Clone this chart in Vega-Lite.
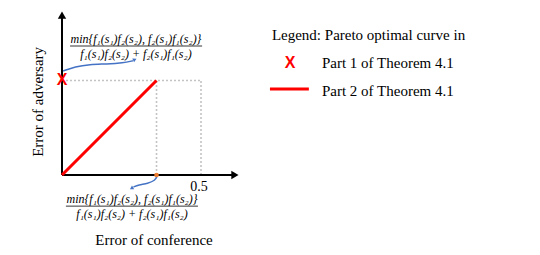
{
  "$schema": "https://vega.github.io/schema/vega-lite/v6.json",
  "width": 540,
  "height": 255,
  "autosize": {"type": "fit", "contains": "padding"},
  "padding": 0,
  "background": "white",
  "config": {"view": {"stroke": null}},
  "datasets": {
    "dotted": [
      {"x": 0, "y": 0.34, "x2": 0.5, "y2": 0.34},
      {"x": 0.34, "y": 0, "x2": 0.34, "y2": 0.34},
      {"x": 0.5, "y": 0, "x2": 0.5, "y2": 0.34}
    ],
    "axes": [
      {"x": 0, "y": 0, "x2": 0.622, "y2": 0},
      {"x": 0, "y": 0, "x2": 0, "y2": 0.575}
    ],
    "pareto": [
      {"x": 0, "y": 0, "x2": 0.34, "y2": 0.34}
    ],
    "arrowX": [{"x": 0.622, "y": 0}],
    "arrowY": [{"x": 0, "y": 0.575}],
    "blueTop": [
      {"o": 1, "x": 0.004, "y": 0.374},
      {"o": 2, "x": 0.047, "y": 0.390},
      {"o": 3, "x": 0.100, "y": 0.398},
      {"o": 4, "x": 0.160, "y": 0.399},
      {"o": 5, "x": 0.220, "y": 0.403},
      {"o": 6, "x": 0.255, "y": 0.411}
    ],
    "blueBottom": [
      {"o": 1, "x": 0.342, "y": -0.004},
      {"o": 2, "x": 0.335, "y": -0.020},
      {"o": 3, "x": 0.309, "y": -0.030},
      {"o": 4, "x": 0.275, "y": -0.036},
      {"o": 5, "x": 0.257, "y": -0.043}
    ],
    "blueHeadTop": [{"x": 0.262, "y": 0.415}],
    "blueHeadBottom": [{"x": 0.250, "y": -0.048}],
    "orangeDot": [{"x": 0.34, "y": 0}],
    "redX": [{"x": 0, "y": 0.34, "t": "X"}, {"x": 0.82, "y": 0.403, "t": "X"}],
    "legendLine": [{"x": 0.748, "y": 0.309, "x2": 0.888, "y2": 0.309}],
    "fracBars": [
      {"x": 0.029, "y": 0.464, "x2": 0.504, "y2": 0.464},
      {"x": 0.014, "y": -0.112, "x2": 0.489, "y2": -0.112}
    ],
    "numer": [
      {"x": 0.266, "y": 0.490, "t": "min{f₁(s₁)f₂(s₂), f₂(s₁)f₁(s₂)}"},
      {"x": 0.252, "y": -0.086, "t": "min{f₁(s₁)f₂(s₂), f₂(s₁)f₁(s₂)}"}
    ],
    "denom": [
      {"x": 0.266, "y": 0.437, "t": "f₁(s₁)f₂(s₂) + f₂(s₁)f₁(s₂)"},
      {"x": 0.252, "y": -0.139, "t": "f₁(s₁)f₂(s₂) + f₂(s₁)f₁(s₂)"}
    ],
    "tick": [{"x": 0.493, "y": -0.043, "t": "0.5"}],
    "xtitle": [{"x": 0.331, "y": -0.234, "t": "Error of conference"}],
    "ytitle": [{"x": -0.086, "y": 0.263, "t": "Error of adversary"}],
    "legendText": [
      {"x": 0.755, "y": 0.504, "t": "Legend: Pareto optimal curve in"},
      {"x": 0.935, "y": 0.403, "t": "Part 1 of Theorem 4.1"},
      {"x": 0.935, "y": 0.302, "t": "Part 2 of Theorem 4.1"}
    ]
  },
  "encoding": {
    "x": {"field": "x", "type": "quantitative", "axis": null,
          "scale": {"domain": [-0.22302, 1.71942], "nice": false, "zero": false}},
    "y": {"field": "y", "type": "quantitative", "axis": null,
          "scale": {"domain": [-0.28777, 0.62950], "nice": false, "zero": false}}
  },
  "layer": [
    {"data": {"name": "dotted"},
     "mark": {"type": "rule", "color": "#c4c4c4", "strokeWidth": 1.6, "strokeDash": [2, 2]},
     "encoding": {"x2": {"field": "x2"}, "y2": {"field": "y2"}}},
    {"data": {"name": "axes"},
     "mark": {"type": "rule", "color": "#000000", "strokeWidth": 2},
     "encoding": {"x2": {"field": "x2"}, "y2": {"field": "y2"}}},
    {"data": {"name": "arrowX"},
     "mark": {"type": "point", "shape": "triangle-right", "filled": true, "color": "#000000", "size": 70, "opacity": 1}},
    {"data": {"name": "arrowY"},
     "mark": {"type": "point", "shape": "triangle-up", "filled": true, "color": "#000000", "size": 70, "opacity": 1}},
    {"data": {"name": "pareto"},
     "mark": {"type": "rule", "color": "#ff0000", "strokeWidth": 3},
     "encoding": {"x2": {"field": "x2"}, "y2": {"field": "y2"}}},
    {"data": {"name": "legendLine"},
     "mark": {"type": "rule", "color": "#ff0000", "strokeWidth": 3},
     "encoding": {"x2": {"field": "x2"}, "y2": {"field": "y2"}}},
    {"data": {"name": "blueTop"},
     "mark": {"type": "line", "color": "#4472c4", "strokeWidth": 1.5, "interpolate": "basis"},
     "encoding": {"order": {"field": "o", "type": "quantitative"}}},
    {"data": {"name": "blueBottom"},
     "mark": {"type": "line", "color": "#4472c4", "strokeWidth": 1.5, "interpolate": "basis"},
     "encoding": {"order": {"field": "o", "type": "quantitative"}}},
    {"data": {"name": "blueHeadTop"},
     "mark": {"type": "point", "shape": "triangle-up", "angle": 65, "filled": true, "color": "#4472c4", "size": 18, "opacity": 1}},
    {"data": {"name": "blueHeadBottom"},
     "mark": {"type": "point", "shape": "triangle-up", "angle": 240, "filled": true, "color": "#4472c4", "size": 18, "opacity": 1}},
    {"data": {"name": "orangeDot"},
     "mark": {"type": "point", "shape": "circle", "filled": true, "color": "#ed7d31", "size": 22, "opacity": 1}},
    {"data": {"name": "redX"},
     "mark": {"type": "text", "font": "Liberation Sans", "fontWeight": "bold", "fontSize": 16, "color": "#ff0000", "align": "center", "baseline": "middle"},
     "encoding": {"text": {"field": "t"}}},
    {"data": {"name": "fracBars"},
     "mark": {"type": "rule", "color": "#000000", "strokeWidth": 0.8},
     "encoding": {"x2": {"field": "x2"}, "y2": {"field": "y2"}}},
    {"data": {"name": "numer"},
     "mark": {"type": "text", "font": "Liberation Serif", "fontStyle": "italic", "fontSize": 12, "color": "#000000", "align": "center", "baseline": "middle"},
     "encoding": {"text": {"field": "t"}}},
    {"data": {"name": "denom"},
     "mark": {"type": "text", "font": "Liberation Serif", "fontStyle": "italic", "fontSize": 12, "color": "#000000", "align": "center", "baseline": "middle"},
     "encoding": {"text": {"field": "t"}}},
    {"data": {"name": "tick"},
     "mark": {"type": "text", "font": "Liberation Serif", "fontSize": 14, "color": "#000000", "align": "center", "baseline": "middle"},
     "encoding": {"text": {"field": "t"}}},
    {"data": {"name": "xtitle"},
     "mark": {"type": "text", "font": "Liberation Serif", "fontSize": 15, "color": "#000000", "align": "center", "baseline": "middle"},
     "encoding": {"text": {"field": "t"}}},
    {"data": {"name": "ytitle"},
     "mark": {"type": "text", "font": "Liberation Serif", "fontSize": 15, "angle": 270, "color": "#000000", "align": "center", "baseline": "middle"},
     "encoding": {"text": {"field": "t"}}},
    {"data": {"name": "legendText"},
     "mark": {"type": "text", "font": "Liberation Serif", "fontSize": 15, "color": "#000000", "align": "left", "baseline": "middle"},
     "encoding": {"text": {"field": "t"}}}
  ]
}
